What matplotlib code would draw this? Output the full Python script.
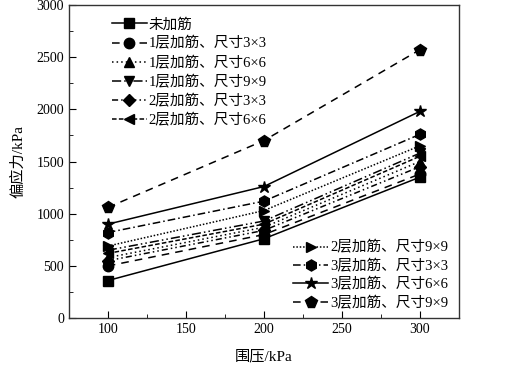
import matplotlib
matplotlib.use("Agg")
import matplotlib.pyplot as plt
from matplotlib.ticker import MultipleLocator

plt.rcParams['font.family'] = ['Liberation Serif', 'Noto Sans CJK SC']
plt.rcParams['mathtext.fontset'] = 'stix'

confining = [100, 200, 300]
labels = ["未加筋", "1层加筋、尺寸3×3", "1层加筋、尺寸6×6", "1层加筋、尺寸9×9",
          "2层加筋、尺寸3×3", "2层加筋、尺寸6×6", "2层加筋、尺寸9×9",
          "3层加筋、尺寸3×3", "3层加筋、尺寸6×6", "3层加筋、尺寸9×9"]
s_none = [360, 760, 1350]
s_1_3 = [500, 800, 1380]
s_1_6 = [580, 870, 1500]
s_1_9 = [650, 930, 1580]
s_2_3 = [550, 840, 1450]
s_2_6 = [620, 900, 1550]
s_2_9 = [690, 1030, 1650]
s_3_3 = [820, 1120, 1760]
s_3_6 = [900, 1260, 1980]
s_3_9 = [1060, 1700, 2570]
series = [s_none, s_1_3, s_1_6, s_1_9, s_2_3, s_2_6, s_2_9, s_3_3, s_3_6, s_3_9]

markers = ['s', 'o', '^', 'v', 'D', '<', '>', 'h', '*', 'p']
styles = ['-', (0, (5, 4)), (0, (1, 2)), (0, (6, 2, 1, 2, 1, 2)), (0, (4, 2, 1, 2, 1, 2)),
          (0, (3, 1.5)), (0, (1, 1.2)), (0, (5, 2, 1, 2)), '-', (0, (5, 4))]
msizes = [7, 7.5, 7.5, 7.5, 6.5, 7.5, 7.5, 8, 9, 8.5]

fig = plt.figure(figsize=(5.25, 3.73), dpi=100)
ax = fig.add_axes([0.131, 0.147, 0.743, 0.840])

handles = []
for y, lab, m, ls, ms in zip(series, labels, markers, styles, msizes):
    h, = ax.plot(confining, y, color='black', linestyle=ls, linewidth=1.1,
                 marker=m, markersize=ms, label=lab)
    handles.append(h)

ax.set_xlim(75, 325)
ax.set_ylim(0, 3000)
ax.xaxis.set_major_locator(MultipleLocator(50))
ax.xaxis.set_minor_locator(MultipleLocator(25))
ax.yaxis.set_major_locator(MultipleLocator(500))
ax.yaxis.set_minor_locator(MultipleLocator(250))
ax.tick_params(which='both', direction='in', labelsize=10, top=False, right=False)
ax.tick_params(which='major', length=5)
ax.tick_params(which='minor', length=3)
for sp in ax.spines.values():
    sp.set_linewidth(1.0)
    sp.set_color('#333333')

ax.set_xlabel("围压/kPa", fontsize=11, labelpad=10)
ax.set_ylabel("偏应力/kPa", fontsize=11, labelpad=8)

common = dict(frameon=False, fontsize=10.5, handlelength=2.4, handletextpad=0.15,
              borderaxespad=0.0, borderpad=0.0)
leg1 = ax.legend(handles=handles[:6], loc='upper left', bbox_to_anchor=(0.11, 0.958),
                 labelspacing=0.35, **common)
ax.add_artist(leg1)
ax.legend(handles=handles[6:], loc='lower right', bbox_to_anchor=(0.974, 0.026),
          labelspacing=0.3, **common)

fig.savefig("out.png", dpi=100)
